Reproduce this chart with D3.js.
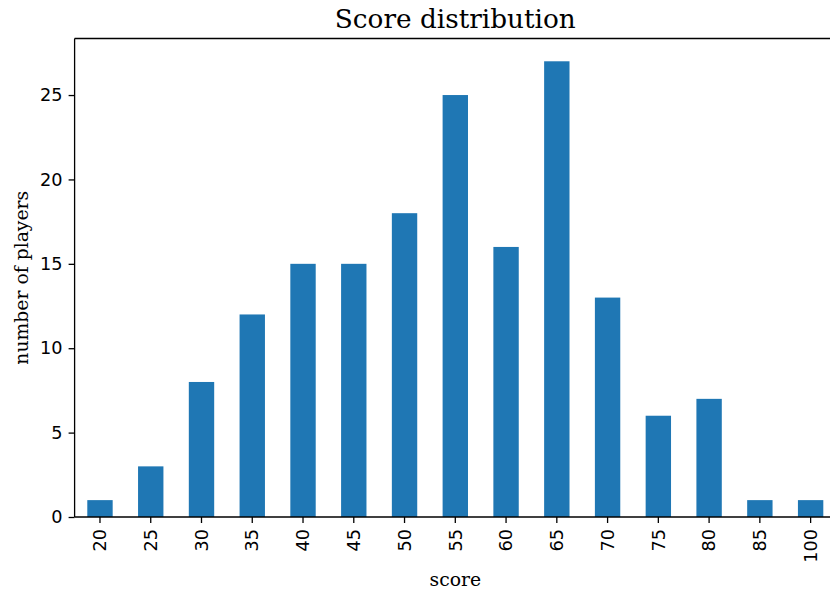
<!DOCTYPE html>
<html><head><meta charset="utf-8">
<script src="https://cdn.jsdelivr.net/npm/d3@7"></script>
<style>body{margin:0;background:#fff}</style>
</head><body>
<svg id="c" width="830" height="592"></svg>
<script>
const categories = ["20","25","30","35","40","45","50","55","60","65","70","75","80","85","100"];
const counts = [1,3,8,12,15,15,18,25,16,27,13,6,7,1,1];
const yTicks = [0,5,10,15,20,25];

const svg = d3.select("#c");
const mLeft = 74.6, mRight = 836, mTop = 38.5, mBottom = 517;
const x = d3.scaleBand().domain(categories).range([mLeft, mRight]).paddingInner(0.5).paddingOuter(0.25);
const y = d3.scaleLinear().domain([0, d3.max(counts) * 1.05]).range([mBottom, mTop]);

svg.append("g").selectAll("rect").data(categories).join("rect")
  .attr("x", d => x(d)).attr("width", x.bandwidth())
  .attr("y", (d,i) => y(counts[i])).attr("height", (d,i) => y(0) - y(counts[i]))
  .attr("fill", "#1f77b4");

const tickFont = "DejaVu Sans";
const gx = svg.append("g").attr("transform", `translate(0,${mBottom})`)
  .call(d3.axisBottom(x).tickSize(6).tickPadding(5).tickSizeOuter(0));
gx.select(".domain").remove();
gx.selectAll("line").attr("stroke", "#000").attr("stroke-width", 1.3);
gx.selectAll("text").attr("font-family", tickFont).attr("font-size", 17.7).attr("fill", "#000")
  .attr("transform", "rotate(-90)").attr("text-anchor", "end")
  .attr("x", -12).attr("y", 0).attr("dy", "0.35em");

const gy = svg.append("g").attr("transform", `translate(${mLeft},0)`)
  .call(d3.axisLeft(y).tickValues(yTicks).tickSize(6).tickPadding(6).tickSizeOuter(0));
gy.select(".domain").remove();
gy.selectAll("line").attr("stroke", "#000").attr("stroke-width", 1.3);
gy.selectAll("text").attr("font-family", tickFont).attr("font-size", 17.7).attr("fill", "#000");

// spines
const spine = (x1,y1,x2,y2) => svg.append("line").attr("x1",x1).attr("y1",y1).attr("x2",x2).attr("y2",y2).attr("stroke","#000").attr("stroke-width",1.3);
spine(mLeft, mTop, mLeft, mBottom);
spine(mLeft, mBottom, mRight, mBottom);
spine(mLeft, mTop, mRight, mTop);
spine(mRight, mTop, mRight, mBottom);

const cx = (mLeft + mRight) / 2;
svg.append("text").attr("x", cx).attr("y", 28).attr("text-anchor", "middle")
  .attr("font-family", "DejaVu Serif").attr("font-size", 26.3).text("Score distribution");
svg.append("text").attr("x", cx).attr("y", 586).attr("text-anchor", "middle")
  .attr("font-family", "DejaVu Serif").attr("font-size", 18.8).text("score");
svg.append("text").attr("transform", `translate(28,${(mTop+mBottom)/2}) rotate(-90)`).attr("text-anchor", "middle")
  .attr("font-family", "DejaVu Serif").attr("font-size", 18.8).text("number of players");
</script>
</body></html>
